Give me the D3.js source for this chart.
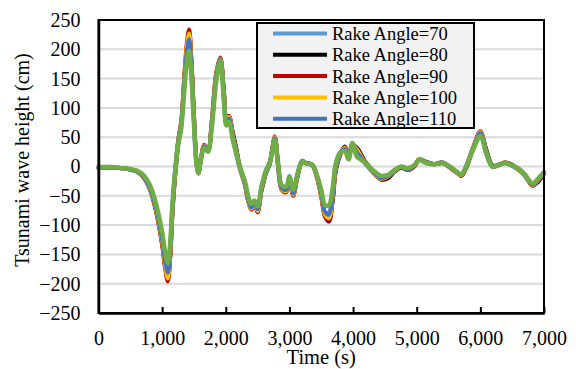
<!DOCTYPE html>
<html>
<head>
<meta charset="utf-8">
<script src="https://cdn.jsdelivr.net/npm/d3@7/dist/d3.min.js"></script>
<style>
  html, body { margin: 0; padding: 0; background: #fff; }
  svg { display: block; }
  svg text { font-family: "Liberation Serif", "Times New Roman", serif !important; fill: #000; }
</style>
</head>
<body>
<svg id="chart" width="576" height="369"></svg>
<script>
// Time axis (s), shared by every run
const time = [
  0,200,400,500,600,700,800,900,1000,1050,
  1090,1130,1160,1200,1250,1300,1350,1390,1425,1460,
  1500,1540,1570,1610,1660,1720,1780,1850,1915,1970,
  2010,2050,2110,2170,2220,2300,2350,2400,2450,2500,
  2560,2630,2690,2770,2820,2880,2950,3000,3060,3130,
  3200,3270,3360,3430,3500,3560,3620,3680,3730,3800,
  3870,3930,3990,4060,4180,4300,4440,4550,4650,4760,
  4860,4970,5040,5150,5280,5410,5520,5620,5700,5780,
  5880,6000,6090,6190,6300,6380,6480,6590,6690,6820,
  6900,7000
];

// Tsunami wave height (cm) for each rake angle
const rake70 = [
  -2,-2,-3,-5,-9,-18,-38,-76,-134,-172,
  -180,-130,-66,-8,44,76,150,201,214,160,
  72,2,-12,15,35,28,78,158,181,112,
  72,80,46,18,-4,-32,-58,-68,-64,-72,
  -34,-6,8,48,0,-40,-40,-16,-44,-10,
  10,5,1,-18,-50,-78,-78,-42,4,24,
  30,16,40,20,6,-9,-22,-15,-6,-1,
  -4,3,12,6,4,6,-2,-10,-14,2,
  30,56,22,-1,4,6,2,-5,-15,-31,
  -21,-9
];
const rake80 = [
  -2,-2,-3,-5,-8,-16,-34,-71,-129,-170,
  -192,-148,-84,-22,36,72,148,204,227,180,
  88,10,-10,12,35,28,72,152,184,130,
  84,86,58,28,0,-27,-56,-72,-64,-76,
  -42,-12,4,49,8,-36,-42,-24,-48,-16,
  7,6,3,-15,-48,-84,-94,-58,-6,20,
  34,20,36,32,10,-6,-22,-20,-9,-2,
  -6,1,12,8,4,6,-1,-9,-16,-2,
  28,58,30,2,3,7,4,-4,-13,-32,
  -27,-12
];
const rake90 = [
  -2,-2,-3,-5,-8,-17,-36,-74,-134,-176,
  -196,-148,-80,-17,42,77,157,213,234,180,
  85,6,-12,14,37,29,77,160,186,126,
  80,86,54,24,-2,-30,-58,-74,-66,-78,
  -40,-10,6,51,4,-40,-44,-22,-50,-14,
  9,5,2,-18,-52,-86,-92,-55,-2,22,
  33,18,38,30,8,-8,-22,-18,-8,-1,
  -6,2,13,7,4,7,-2,-10,-15,0,
  31,60,28,0,3,7,3,-5,-14,-33,
  -25,-10
];
const rake100 = [
  -2,-2,-3,-5,-8,-16,-35,-72,-130,-171,
  -191,-144,-78,-16,41,75,153,207,227,175,
  83,6,-12,14,36,28,75,157,184,124,
  79,85,53,24,-2,-29,-57,-72,-64,-76,
  -39,-10,6,50,4,-39,-42,-21,-48,-14,
  9,5,2,-17,-50,-82,-88,-52,-2,21,
  32,17,37,29,8,-8,-21,-17,-8,-1,
  -5,2,13,7,4,7,-1,-10,-15,0,
  30,59,27,0,3,7,3,-5,-14,-32,
  -24,-10
];
const rake110 = [
  -2,-2,-3,-5,-8,-16,-34,-69,-125,-164,
  -181,-138,-75,-16,39,72,146,198,217,168,
  80,6,-11,13,35,27,72,153,183,120,
  76,82,51,22,-1,-28,-55,-70,-62,-73,
  -38,-9,6,48,4,-37,-40,-20,-46,-13,
  9,5,2,-16,-47,-78,-82,-48,0,22,
  30,16,39,24,8,-7,-20,-16,-7,-1,
  -5,2,12,7,4,7,-1,-9,-14,0,
  29,57,26,0,3,6,3,-4,-13,-31,
  -24,-10
];
const rake120 = [
  -1,-1,-3,-4,-7,-14,-30,-62,-112,-148,
  -165,-125,-68,-15,35,65,132,180,197,152,
  72,5,-10,12,32,25,66,145,180,112,
  70,76,46,20,0,-25,-50,-64,-58,-68,
  -35,-8,5,45,5,-32,-34,-18,-40,-12,
  8,5,3,-14,-40,-66,-66,-36,6,24,
  26,12,40,17,8,-5,-16,-14,-6,0,
  -3,3,11,6,4,6,0,-8,-13,0,
  27,52,24,0,3,6,3,-3,-12,-29,
  -22,-10
];

const seriesNames = ["Rake Angle=70", "Rake Angle=80", "Rake Angle=90", "Rake Angle=100", "Rake Angle=110", "Rake Angle=120"];
const seriesValues = [rake70, rake80, rake90, rake100, rake110, rake120];
const seriesColors = ["#5B9BD5", "#000000", "#C00000", "#FFC000", "#4472C4", "#70AD47"];
const legendCount = 5;   // legend lists the first five runs

const yTicks = [-250,-200,-150,-100,-50,0,50,100,150,200,250];
const xTicks = [0,1000,2000,3000,4000,5000,6000,7000];

const W = 576, H = 369;
const margin = { left: 98.5, right: 32, top: 20, bottom: 56 };
const iw = W - margin.left - margin.right;
const ih = H - margin.top - margin.bottom;

const svg = d3.select("#chart");
const g = svg.append("g").attr("transform", `translate(${margin.left},${margin.top})`);

const x = d3.scaleLinear().domain([0, 7000]).range([0, iw]);
const y = d3.scaleLinear().domain([-250, 250]).range([ih, 0]);

// horizontal gridlines
g.append("g")
  .selectAll("line")
  .data(yTicks.filter(v => v !== -250 && v !== 250))
  .join("line")
  .attr("x1", 0).attr("x2", iw)
  .attr("y1", d => y(d)).attr("y2", d => y(d))
  .attr("stroke", "#d9d9d9")
  .attr("stroke-width", 2);

// wave traces
const line = d3.line()
  .x((d, i) => x(time[i]))
  .y(d => y(d))
  .curve(d3.curveCatmullRom.alpha(0.5));

g.append("g")
  .selectAll("path")
  .data(seriesValues)
  .join("path")
  .attr("d", d => line(d))
  .attr("fill", "none")
  .attr("stroke", (d, i) => seriesColors[i])
  .attr("stroke-width", (d, i) => i === 5 ? 4.5 : 4)
  .attr("stroke-linejoin", "round")
  .attr("stroke-linecap", "round");

// plot frame
g.append("rect")
  .attr("x", 0).attr("y", 0).attr("width", iw).attr("height", ih)
  .attr("fill", "none").attr("stroke", "#000").attr("stroke-width", 2);

// x axis with inward ticks
const xAxis = g.append("g")
  .attr("transform", `translate(0,${ih})`)
  .call(d3.axisBottom(x).tickValues(xTicks).tickSize(-6).tickSizeOuter(0)
    .tickPadding(18).tickFormat(d3.format(",")));
xAxis.select(".domain").attr("stroke", "#000").attr("stroke-width", 2.5);
xAxis.selectAll(".tick line").attr("stroke", "#000").attr("stroke-width", 2);
xAxis.selectAll(".tick text").attr("font-size", 20);

// y axis labels
const yAxis = g.append("g")
  .call(d3.axisLeft(y).tickValues(yTicks).tickSize(0).tickPadding(18));
yAxis.select(".domain").attr("stroke", "#000").attr("stroke-width", 2.5);
yAxis.selectAll(".tick text").attr("font-size", 20);

// axis titles
svg.append("text")
  .attr("x", margin.left + iw / 2).attr("y", 364)
  .attr("text-anchor", "middle")
  .attr("font-size", 20.5)
  .text("Time (s)");

svg.append("text")
  .attr("transform", `translate(29,160) rotate(-90)`)
  .attr("text-anchor", "middle")
  .attr("font-size", 20)
  .text("Tsunami wave height (cm)");

// legend
const lg = svg.append("g").attr("transform", "translate(257,23)");
lg.append("rect")
  .attr("width", 217).attr("height", 105)
  .attr("fill", "#f2f2f2").attr("stroke", "#000").attr("stroke-width", 2);
const rows = lg.selectAll("g.row")
  .data(seriesNames.slice(0, legendCount))
  .join("g")
  .attr("class", "row")
  .attr("transform", (d, i) => `translate(0,${10.5 + i * 21.3})`);
rows.append("line")
  .attr("x1", 16).attr("x2", 70)
  .attr("stroke", (d, i) => seriesColors[i])
  .attr("stroke-width", 4);
rows.append("text")
  .attr("x", 75).attr("dy", "0.35em")
  .attr("font-size", 18.5)
  .text(d => d);
</script>
</body>
</html>
